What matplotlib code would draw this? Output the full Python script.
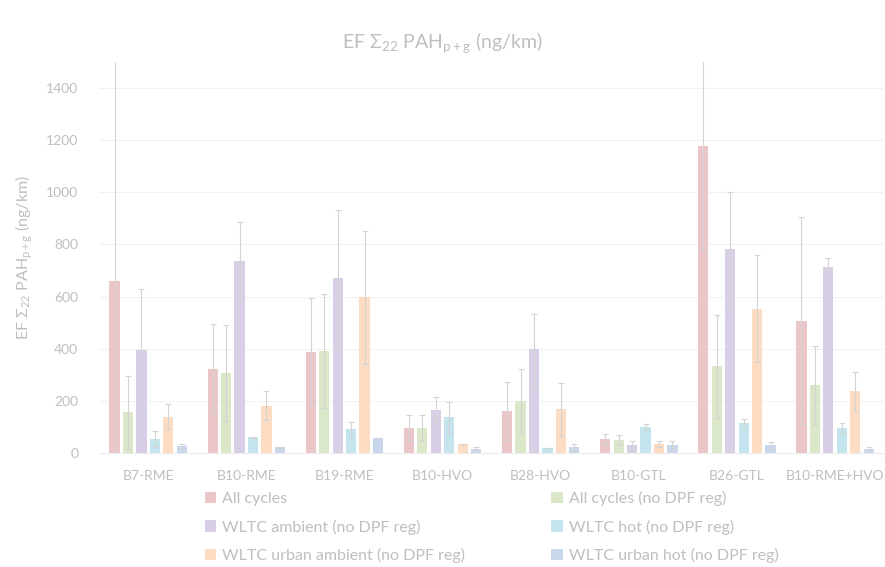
import numpy as np
import matplotlib.pyplot as plt

plt.rcParams['font.family'] = ['Lato', 'DejaVu Sans']
plt.rcParams['mathtext.fontset'] = 'custom'
plt.rcParams['mathtext.rm'] = 'Lato'
plt.rcParams['mathtext.it'] = 'Lato'

fuels = ['B7-RME', 'B10-RME', 'B19-RME', 'B10-HVO', 'B28-HVO', 'B10-GTL', 'B26-GTL', 'B10-RME+HVO']
series = ['All cycles', 'All cycles (no DPF reg)', 'WLTC ambient (no DPF reg)',
          'WLTC hot (no DPF reg)', 'WLTC urban ambient (no DPF reg)', 'WLTC urban hot (no DPF reg)']
colors = ['#ebc6c8', '#dae7c9', '#d8cfe6', '#c4e5ee', '#fcdcc2', '#c9d7ec']

all_cycles = [661, 322, 389, 97, 162, 54, 1178, 508]
all_nodpf = [156, 307, 391, 97, 199, 49, 332, 262]
wltc_amb = [395, 738, 670, 165, 398, 32, 781, 715]
wltc_hot = [54, 61, 92, 137, 19, 100, 114, 96]
urban_amb = [139, 182, 597, 33, 168, 35, 553, 237]
urban_hot = [27, 23, 56, 17, 23, 30, 30, 17]

err_all = [900, 173, 204, 48, 112, 20, 400, 397]
err_nodpf = [140, 184, 220, 48, 122, 20, 196, 150]
err_amb = [233, 148, 262, 51, 134, 13, 219, 34]
err_hot = [31, 2, 28, 59, 0, 11, 15, 20]
err_uamb = [48, 56, 256, 0, 102, 12, 205, 75]
err_uhot = [6, 2, 0, 7, 10, 15, 13, 7]

values = [all_cycles, all_nodpf, wltc_amb, wltc_hot, urban_amb, urban_hot]
errors = [err_all, err_nodpf, err_amb, err_hot, err_uamb, err_uhot]

text_col = '#bfbfbf'
fig = plt.figure(figsize=(8.85, 5.67), dpi=100)
ax = fig.add_axes([0.112, 0.201, 0.887, 0.69])

x = np.arange(len(fuels))
w = 0.104
pitch = 0.137
handles = []
for i, (vals, errs) in enumerate(zip(values, errors)):
    pos = x + (i - 2.5) * pitch
    b = ax.bar(pos, vals, width=w, color=colors[i], label=series[i], zorder=2)
    handles.append(b)
    ax.errorbar(pos, vals, yerr=errs, fmt='none', ecolor='#d4d4d4', elinewidth=0.8,
                capsize=2.5, capthick=0.8, zorder=3)

ax.set_xlim(-0.5, len(fuels) - 0.5)
ax.set_ylim(0, 1500)
ax.set_yticks(np.arange(0, 1401, 200))
ax.set_xticks(x)
ax.set_xticklabels(fuels)
ax.grid(axis='y', color='#f2f2f2', linewidth=0.8, zorder=0)
for s in ['top', 'right', 'left']:
    ax.spines[s].set_visible(False)
ax.spines['bottom'].set_color('#ececec')
ax.tick_params(axis='both', length=0, colors=text_col, labelsize=10)
ax.tick_params(axis='y', pad=15)
ax.tick_params(axis='x', pad=12)

fig.text(0.5, 1 - 43 / 567, r'EF $\Sigma_{22}$ PAH$_{\mathrm{p+g}}$ (ng/km)', color=text_col,
         fontsize=14, ha='center', va='center')
ax.set_ylabel(r'EF $\Sigma_{22}$ PAH$_{\mathrm{p+g}}$ (ng/km)', color=text_col, fontsize=11.5, labelpad=8)

# legend is filled row by row in the original
order = [0, 2, 4, 1, 3, 5]
ax.legend([handles[k] for k in order], [series[k] for k in order],
          loc='upper center', bbox_to_anchor=(0.5, -0.06), ncol=2, frameon=False,
          fontsize=11.5, labelcolor=text_col, handlelength=0.7, handleheight=0.7,
          handletextpad=0.4, columnspacing=5.4, labelspacing=0.85)

fig.savefig('out.png', dpi=100)
